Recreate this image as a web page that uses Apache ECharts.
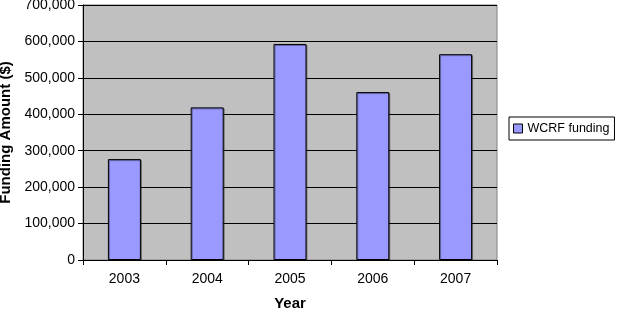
<!DOCTYPE html>
<html>
<head>
<meta charset="utf-8">
<script src="https://cdn.jsdelivr.net/npm/echarts@6/dist/echarts.min.js"></script>
<style>
  html, body { margin: 0; padding: 0; background: #fff; }
  #main { width: 624px; height: 309px; }
</style>
</head>
<body>
<div id="main"></div>
<script>
  // data
  var years = ['2003', '2004', '2005', '2006', '2007'];
  var funding = [277000, 419000, 593000, 461000, 565000];
  var seriesName = 'WCRF funding';

  var chart = echarts.init(document.getElementById('main'));
  var font = 'Liberation Sans, Arial, sans-serif';

  var option = {
    animation: false,
    textStyle: { fontFamily: font },
    grid: {
      left: 83, right: 127, top: 5, bottom: 49,
      containLabel: false,
      outerBoundsMode: 'none',
      show: true,
      backgroundColor: '#c0c0c0',
      borderColor: '#808080',
      borderWidth: 1
    },
    legend: {
      data: [seriesName],
      left: 509, top: 117,
      orient: 'vertical',
      backgroundColor: '#fff',
      borderColor: '#000',
      borderWidth: 1,
      padding: [5, 5, 5, 4],
      itemWidth: 9, itemHeight: 9,
      itemGap: 4,
      icon: 'rect',
      itemStyle: { borderColor: '#000', borderWidth: 1 },
      textStyle: { fontSize: 12.5, color: '#000', fontFamily: font }
    },
    xAxis: {
      type: 'category',
      data: years,
      name: 'Year',
      nameLocation: 'middle',
      nameGap: 36,
      nameTextStyle: { fontSize: 15, fontWeight: 'bold', color: '#000', fontFamily: font },
      axisLine: { lineStyle: { color: '#000' } },
      axisTick: { show: true, length: 5, lineStyle: { color: '#000' } },
      axisLabel: { fontSize: 14, color: '#000', margin: 12, fontFamily: font }
    },
    yAxis: {
      type: 'value',
      min: 0, max: 700000, interval: 100000,
      name: 'Funding Amount ($)',
      nameLocation: 'middle',
      nameGap: 67,
      nameTextStyle: { fontSize: 15, fontWeight: 'bold', color: '#000', fontFamily: font },
      axisLine: { show: true, lineStyle: { color: '#000' } },
      axisTick: { show: true, length: 5, lineStyle: { color: '#000' } },
      axisLabel: {
        fontSize: 14, color: '#000', margin: 8, fontFamily: font,
        formatter: function (v) { return v.toLocaleString('en-US'); }
      },
      splitLine: { lineStyle: { color: '#000', width: 1 } }
    },
    series: [{
      name: seriesName,
      type: 'bar',
      data: funding,
      barWidth: 33,
      itemStyle: {
        color: '#9999ff',
        borderColor: '#000',
        borderWidth: 1,
        shadowColor: 'rgba(0,0,0,0.35)',
        shadowOffsetX: 1,
        shadowOffsetY: 1
      }
    }]
  };

  chart.setOption(option);
</script>
</body>
</html>
